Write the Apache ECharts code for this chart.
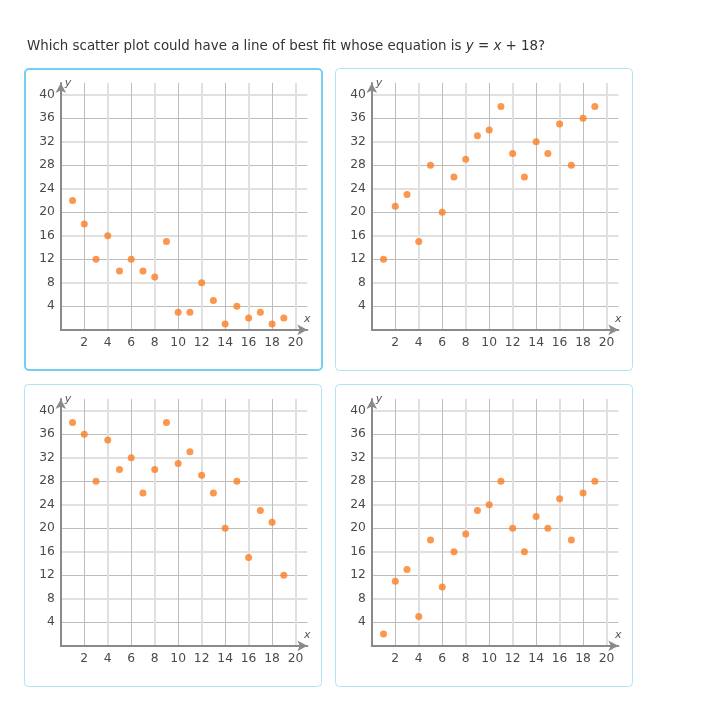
<!DOCTYPE html>
<html>
<head>
<meta charset="utf-8">
<script src="https://cdn.jsdelivr.net/npm/echarts@6/dist/echarts.min.js"></script>
<style>
html,body{margin:0;padding:0;background:#fff;}
#c{width:706px;height:707px;}
</style>
</head>
<body>
<div id="c"></div>
<script>
// ---- data ----
const xValues = [1,2,3,4,5,6,7,8,9,10,11,12,13,14,15,16,17,18,19];
const plotA = [22,18,12,16,10,12,10,9,15,3,3,8,5,1,4,2,3,1,2];
const plotB = [12,21,23,15,28,20,26,29,33,34,38,30,26,32,30,35,28,36,38];
const plotC = [38,36,28,35,30,32,26,30,38,31,33,29,26,20,28,15,23,21,12];
const plotD = [2,11,13,5,18,10,16,19,23,24,28,20,16,22,20,25,18,26,28];
const xTicks = [2,4,6,8,10,12,14,16,18,20];
const yTicks = [4,8,12,16,20,24,28,32,36,40];
const plots = [plotA, plotB, plotC, plotD];

// ---- layout ----
const panels = [[24,68],[335,68],[24,384],[335,384]];
const GL = 36.8, GT = 14.9, GW = 246.5, GH = 246.9;
const FONT = '"DejaVu Sans", Verdana, sans-serif';

const grids = [], xAxes = [], yAxes = [], series = [], graphics = [];
panels.forEach((p, i) => {
  grids.push({left: p[0] + GL, top: p[1] + GT, width: GW, height: GH, containLabel: false});
  xAxes.push({
    type: 'value', gridIndex: i, min: 0, max: 21, interval: 2,
    name: 'x', nameLocation: 'end', nameGap: 0,
    nameTextStyle: {fontFamily: FONT, fontStyle: 'italic', fontSize: 11, color: '#555', align: 'center', verticalAlign: 'bottom', padding: [0,0,5,0]},
    axisLine: {show: true, onZero: false, symbol: ['none','arrow'], symbolSize: [8,10], lineStyle: {color: '#8a8a8a', width: 2}},
    axisTick: {show: false},
    axisLabel: {fontFamily: FONT, fontSize: 12.3, color: '#4a4a4a', margin: 7,
      formatter: v => xTicks.indexOf(v) >= 0 ? String(v) : ''},
    splitLine: {show: true, showMaxLine: false, lineStyle: {color: ['transparent','#bdbdbd'], width: 1}}
  });
  xAxes.push({
    type: 'value', gridIndex: i, min: 0, max: 21, interval: 4,
    axisLine: {show: false}, axisTick: {show: false}, axisLabel: {show: false},
    splitLine: {show: true, showMaxLine: false, lineStyle: {color: '#e0e0e0', width: 2}}
  });
  yAxes.push({
    type: 'value', gridIndex: i, min: 0, max: 42, interval: 4,
    name: 'y', nameLocation: 'end', nameGap: 0,
    nameTextStyle: {fontFamily: FONT, fontStyle: 'italic', fontSize: 11, color: '#555', align: 'left', verticalAlign: 'middle', padding: [0,0,0,4]},
    axisLine: {show: true, onZero: false, symbol: ['none','arrow'], symbolSize: [8,10], lineStyle: {color: '#8a8a8a', width: 2}},
    axisTick: {show: false},
    axisLabel: {fontFamily: FONT, fontSize: 12.3, color: '#4a4a4a', margin: 6,
      formatter: v => yTicks.indexOf(v) >= 0 ? String(v) : ''},
    splitLine: {show: true, showMaxLine: false, lineStyle: {color: ['transparent','#bdbdbd'], width: 1}}
  });
  yAxes.push({
    type: 'value', gridIndex: i, min: 0, max: 42, interval: 8,
    axisLine: {show: false}, axisTick: {show: false}, axisLabel: {show: false},
    splitLine: {show: true, showMaxLine: false, lineStyle: {color: '#e0e0e0', width: 2}}
  });
  series.push({
    type: 'scatter', xAxisIndex: i*2, yAxisIndex: i*2, symbolSize: 7,
    itemStyle: {color: '#fb7d24'},
    data: xValues.map((x, k) => [x, plots[i][k]]),
    z: 5
  });
  const sel = i === 0;
  graphics.push({
    type: 'rect', silent: true, z: -1,
    shape: sel ? {x: p[0] + 1, y: p[1] + 1, width: 297, height: 301, r: 4}
               : {x: p[0] + 0.5, y: p[1] + 0.5, width: 297, height: 302, r: 4},
    style: {fill: 'none', stroke: sel ? '#74cff4' : '#b0e3f7', lineWidth: sel ? 2 : 1}
  });
});

const chart = echarts.init(document.getElementById('c'), null, {renderer: 'canvas'});
chart.setOption({
  animation: false,
  backgroundColor: '#fff',
  title: {
    left: 22, top: 35,
    text: 'Which scatter plot could have a line of best fit whose equation is {i|y} = {i|x} + 18?',
    textStyle: {fontFamily: FONT, fontSize: 13.4, fontWeight: 'normal', color: '#333',
      rich: {i: {fontFamily: FONT, fontSize: 13.4, fontStyle: 'italic', color: '#333'}}}
  },
  grid: grids,
  xAxis: xAxes,
  yAxis: yAxes,
  series: series,
  graphic: graphics
});
</script>
</body>
</html>
